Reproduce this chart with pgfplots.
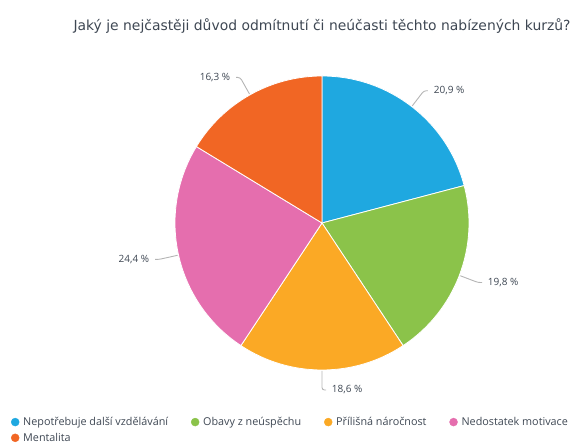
\documentclass[border=0pt]{standalone}
\usepackage{pgfplots}
\pgfplotsset{compat=1.18}
\usepackage{fontspec}
\setmainfont{DejaVu Sans}
\newfontfamily\lfont{Open Sans}
\definecolor{cA}{HTML}{1FA8E0}
\definecolor{cB}{HTML}{8BC34A}
\definecolor{cC}{HTML}{FBA925}
\definecolor{cD}{HTML}{E56EAE}
\definecolor{cE}{HTML}{F16624}
\definecolor{ttl}{HTML}{3E4753}
\definecolor{lead}{HTML}{B4B4B4}
\begin{document}
\begin{tikzpicture}
\begin{axis}[
  scale only axis, width=574pt, height=442pt,
  xmin=0, xmax=574, ymin=0, ymax=442,
  hide axis, clip=false,
  legend columns=4,
  legend cell align=left,
  legend style={at={(axis cs:8,29)}, anchor=north west, draw=none, fill=none,
    font=\lfont\fontsize{10.8}{13}\selectfont, text=ttl,
    /tikz/every odd column/.append style={column sep=2pt},
    /tikz/every even column/.append style={column sep=21pt}, row sep=2pt},
]
\addlegendimage{only marks, mark=*, mark size=4pt, color=cA}
\addlegendentry{Nepotřebuje další vzdělávání}
\addlegendimage{only marks, mark=*, mark size=4pt, color=cB}
\addlegendentry{Obavy z neúspěchu}
\addlegendimage{only marks, mark=*, mark size=4pt, color=cC}
\addlegendentry{Přílišná náročnost}
\addlegendimage{only marks, mark=*, mark size=4pt, color=cD}
\addlegendentry{Nedostatek motivace}
\addlegendimage{only marks, mark=*, mark size=4pt, color=cE}
\addlegendentry{Mentalita}
\path (axis cs:0,0) rectangle (axis cs:574,442);
\node[anchor=base, text=ttl, font=\fontsize{13.9}{16}\selectfont] at (axis cs:322,411)
  {Jaký je nejčastěji důvod odmítnutí či neúčasti těchto nabízených kurzů?};
\pgfplotsextra{
  \gdef\cum{0}
  \foreach \v/\c in {20.9/cA,19.8/cB,18.6/cC,24.4/cD,16.3/cE}{
    \pgfmathsetmacro\sa{90-3.6*\cum}
    \pgfmathsetmacro\ea{\sa-3.6*\v}
    \fill[\c, draw=white, line width=0.8pt] (axis cs:322,219) -- ++(\sa:147pt)
      arc[start angle=\sa, end angle=\ea, radius=147pt] -- cycle;
    \pgfmathsetmacro\nc{\cum+\v}
    \xdef\cum{\nc}
  }
  \gdef\cum{0}
  \foreach \v/\t in {20.9/{20,9},19.8/{19,8},18.6/{18,6},24.4/{24,4},16.3/{16,3}}{
    \pgfmathsetmacro\ma{90-3.6*\cum-1.8*\v}
    \pgfmathsetmacro\cs{cos(\ma)}
    \ifdim\cs pt<-0.01pt \def\dd{180}\def\an{east}\else\def\dd{0}\def\an{west}\fi
    \draw[lead, line width=0.9pt, rounded corners=2.5pt] (axis cs:322,219) ++(\ma:148pt)
      -- ++(\ma:19pt) -- ++(\dd:4pt)
      node[anchor=\an, inner sep=5.5pt, text=ttl, font=\lfont\fontsize{10}{12}\selectfont] {\t\ \%};
    \pgfmathsetmacro\nc{\cum+\v}
    \xdef\cum{\nc}
  }
}
\end{axis}
\end{tikzpicture}
\end{document}
